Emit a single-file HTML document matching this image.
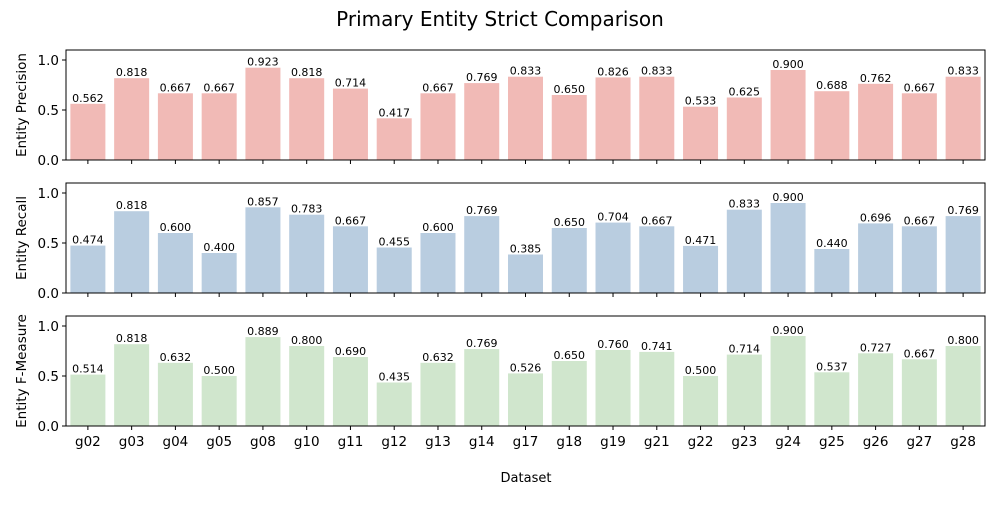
<!DOCTYPE html>
<html><head><meta charset="utf-8"><style>
body{margin:0;background:#fff;font-family:"Liberation Sans","DejaVu Sans",sans-serif}
svg text{font-family:"DejaVu Sans","Liberation Sans",sans-serif}
</style></head><body>
<svg id="chart" width="1000" height="500" xmlns="http://www.w3.org/2000/svg">
<text x="500" y="26" text-anchor="middle" font-size="20" fill="#000">Primary Entity Strict Comparison</text>
<text x="526" y="482" text-anchor="middle" font-size="13" fill="#000">Dataset</text>
</svg>
<script>
const categories=["g02","g03","g04","g05","g08","g10","g11","g12","g13","g14","g17","g18","g19","g21","g22","g23","g24","g25","g26","g27","g28"];
const precision=[0.562,0.818,0.667,0.667,0.923,0.818,0.714,0.417,0.667,0.769,0.833,0.650,0.826,0.833,0.533,0.625,0.900,0.688,0.762,0.667,0.833];
const recall=[0.474,0.818,0.600,0.400,0.857,0.783,0.667,0.455,0.600,0.769,0.385,0.650,0.704,0.667,0.471,0.833,0.900,0.440,0.696,0.667,0.769];
const fmeasure=[0.514,0.818,0.632,0.500,0.889,0.800,0.690,0.435,0.632,0.769,0.526,0.650,0.760,0.741,0.500,0.714,0.900,0.537,0.727,0.667,0.800];
const yTicks=[0,0.5,1.0];
const panels=[
 {name:"precision",label:"Entity Precision",vals:precision,color:"#f1bab6",top:50},
 {name:"recall",label:"Entity Recall",vals:recall,color:"#b9cde0",top:183},
 {name:"fmeasure",label:"Entity F-Measure",vals:fmeasure,color:"#d0e6cd",top:316}
];
const svg=document.getElementById('chart');
const NS="http://www.w3.org/2000/svg";
const L=66,R=985,H=110,YMAX=1.1;
function mk(t,a,p){const e=document.createElementNS(NS,t);for(const k in a)e.setAttribute(k,a[k]);(p||svg).appendChild(e);return e;}
const slot=(R-L)/categories.length;
const xC=i=>L+slot*(i+0.5);
panels.forEach((p,pi)=>{
 const bottom=p.top+H;
 const y=v=>bottom-v/YMAX*H;
 const g=mk('g',{});
 
 
 p.vals.forEach((v,i)=>{
  const r=mk('rect',{x:xC(i)-slot*0.4,y:y(v),width:slot*0.8,height:bottom-y(v),fill:p.color},g);
  
  
  const t=mk('text',{x:xC(i),y:y(v)-2,'text-anchor':'middle','font-size':'11',fill:'#000'},g);
  t.textContent=v.toFixed(3);
  
  
 });
 const fr=mk('rect',{x:L,y:p.top,width:R-L,height:H,fill:'none',stroke:'#000','stroke-width':1},g);
 
 
 yTicks.forEach(t=>{
  mk('line',{x1:L-4,x2:L,y1:y(t),y2:y(t),stroke:'#000'},g);
  const tx=mk('text',{x:L-7,y:y(t)+5,'text-anchor':'end','font-size':'13.5',fill:'#000'},g);
  tx.textContent=t.toFixed(1);
  
  
 });
 categories.forEach((c,i)=>{
  mk('line',{x1:xC(i),x2:xC(i),y1:bottom,y2:bottom+4,stroke:'#000'},g);
  if(pi===2){
   const tx=mk('text',{x:xC(i),y:bottom+20,'text-anchor':'middle','font-size':'13.5',fill:'#000'},g);
   tx.textContent=c;
   
   
  }
 });
 const yl=mk('text',{x:0,y:0,'text-anchor':'middle','font-size':'13.5',fill:'#000',transform:`translate(26,${p.top+H/2}) rotate(-90)`},g);
 yl.textContent=p.label;
 
 
});
</script>
</body></html>
